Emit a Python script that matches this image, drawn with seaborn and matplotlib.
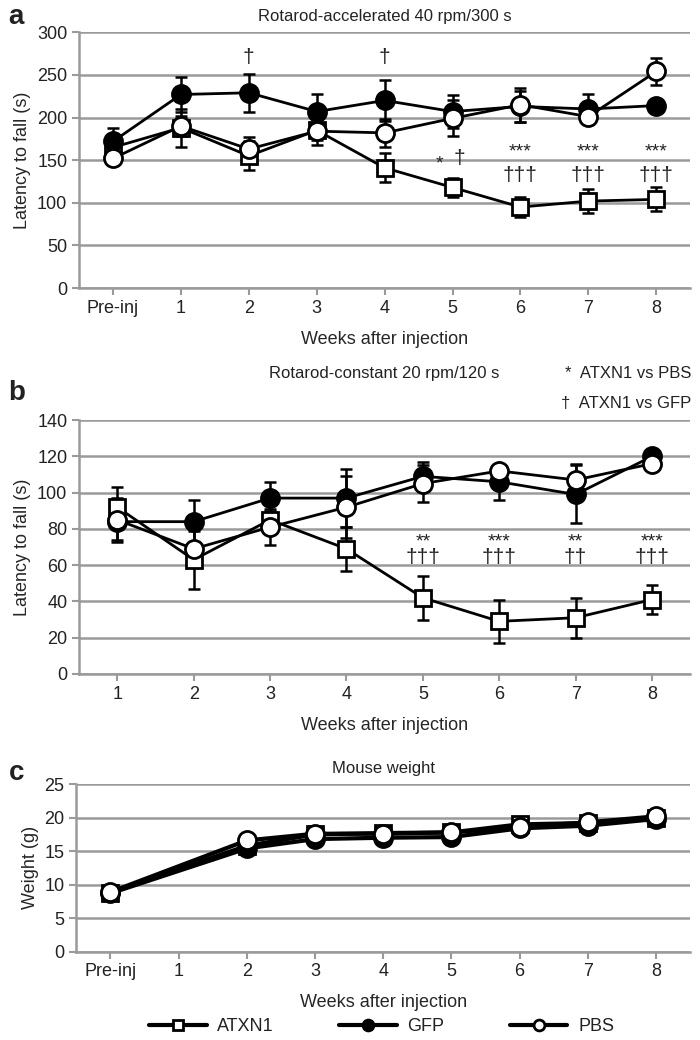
import matplotlib
matplotlib.use('Agg')
import matplotlib.pyplot as plt
import seaborn as sns
import numpy as np

# Datos (medias y SEM)
weeks_a = ['Pre-inj', '1', '2', '3', '4', '5', '6', '7', '8']
weeks_b = ['1', '2', '3', '4', '5', '6', '7', '8']

# a) Rotarod acelerado
acc_atxn1 = [165, 188, 155, 185, 141, 118, 95, 102, 104]
acc_atxn1_err = [15, 22, 17, 17, 17, 11, 12, 14, 14]
acc_gfp = [172, 227, 229, 207, 220, 207, 213, 210, 214]
acc_gfp_err = [16, 20, 22, 20, 24, 19, 18, 18, 0]
acc_pbs = [152, 190, 163, 184, 182, 199, 215, 201, 254]
acc_pbs_err = [0, 12, 14, 10, 16, 21, 20, 0, 16]

# b) Rotarod constante
con_atxn1 = [92, 63, 85, 69, 42, 29, 31, 41]
con_atxn1_err = [11, 16, 5, 12, 12, 12, 11, 8]
con_gfp = [84, 84, 97, 97, 109, 106, 99, 120]
con_gfp_err = [10, 12, 9, 16, 8, 10, 16, 0]
con_pbs = [85, 69, 81, 92, 105, 112, 107, 116]
con_pbs_err = [12, 0, 10, 17, 10, 0, 9, 0]

# c) Peso (sin medida en la semana 1)
weight_pos = [0, 2, 3, 4, 5, 6, 7, 8]
weight_atxn1 = [8.8, 15.8, 17.5, 17.7, 17.8, 19.0, 19.2, 20.0]
weight_gfp = [8.7, 15.4, 16.8, 17.0, 17.1, 18.4, 18.8, 19.8]
weight_pbs = [8.9, 16.6, 17.6, 17.6, 17.8, 18.6, 19.3, 20.2]

# Anotaciones de significancia: (posicion x, y, texto, tamano)
sig_a = [(2, 270, '†', 15), (4, 270, '†', 15), (4.8, 145, '*', 14), (5.1, 152, '†', 15),
         (6, 160, '***', 14), (6, 132, '†††', 15), (7, 160, '***', 14), (7, 132, '†††', 15),
         (8, 160, '***', 14), (8, 132, '†††', 15)]
sig_b = [(4, 73, '**', 14), (4, 64, '†††', 15), (5, 73, '***', 14), (5, 64, '†††', 15),
         (6, 73, '**', 14), (6, 64, '††', 15), (7, 73, '***', 14), (7, 64, '†††', 15)]

sns.set_theme(style='white')
plt.rcParams['font.family'] = ['Liberation Sans Narrow', 'Liberation Sans', 'DejaVu Sans']
plt.rcParams['text.color'] = '#222222'

GRID = '#9a9a9a'
styles = {
    'ATXN1': dict(marker='s', markerfacecolor='white', markersize=11),
    'GFP': dict(marker='o', markerfacecolor='black', markersize=13),
    'PBS': dict(marker='o', markerfacecolor='white', markersize=13),
}


def dibujar_series(ax, x, series, errs=None, lw=2):
    for name, y in series.items():
        sns.lineplot(x=x, y=y, ax=ax, color='black', linewidth=lw, label=name,
                     markeredgecolor='black', markeredgewidth=2, zorder=3,
                     **styles[name])
        if errs is not None:
            e = np.array(errs[name], dtype=float)
            ax.errorbar(x, y, yerr=e, fmt='none', ecolor='black', elinewidth=1.8,
                        capsize=4.5, capthick=1.8, zorder=2)


def formatear_eje(ax, labels, ylim, step, ylabel, title, pad=8):
    ax.set_xlim(-0.5, len(labels) - 0.5)
    ax.set_xticks(range(len(labels)))
    ax.set_xticklabels(labels)
    ax.set_ylim(*ylim)
    ax.set_yticks(np.arange(ylim[0], ylim[1] + 1, step))
    ax.yaxis.grid(True, color=GRID, linewidth=1.8)
    ax.set_axisbelow(True)
    for s in ['top', 'right']:
        ax.spines[s].set_visible(False)
    for s in ['left', 'bottom']:
        ax.spines[s].set_color(GRID)
        ax.spines[s].set_linewidth(1.8)
    ax.tick_params(axis='both', colors=GRID, labelcolor='#222222', labelsize=13,
                   length=5, width=1.5, direction='out', left=True, bottom=True)
    ax.set_xlabel('Weeks after injection', fontsize=13, labelpad=10)
    ax.set_ylabel(ylabel, fontsize=13)
    ax.set_title(title, fontsize=12, pad=pad)
    ax.get_legend().remove()


fig = plt.figure(figsize=(7, 10.4), dpi=100)
ax_a = fig.add_axes([0.113, 0.723, 0.873, 0.246])
ax_b = fig.add_axes([0.113, 0.352, 0.873, 0.244])
ax_c = fig.add_axes([0.109, 0.085, 0.877, 0.161])

# Panel a
xa = np.arange(len(weeks_a))
dibujar_series(ax_a, xa, {'ATXN1': acc_atxn1, 'GFP': acc_gfp, 'PBS': acc_pbs},
               {'ATXN1': acc_atxn1_err, 'GFP': acc_gfp_err, 'PBS': acc_pbs_err})
formatear_eje(ax_a, weeks_a, (0, 300), 50, 'Latency to fall (s)',
              'Rotarod-accelerated 40 rpm/300 s')
for x, y, t, fs in sig_a:
    ax_a.text(x, y, t, ha='center', va='center', fontsize=fs)

# Panel b
xb = np.arange(len(weeks_b))
dibujar_series(ax_b, xb, {'ATXN1': con_atxn1, 'GFP': con_gfp, 'PBS': con_pbs},
               {'ATXN1': con_atxn1_err, 'GFP': con_gfp_err, 'PBS': con_pbs_err})
formatear_eje(ax_b, weeks_b, (0, 140), 20, 'Latency to fall (s)',
              'Rotarod-constant 20 rpm/120 s', pad=30)
for x, y, t, fs in sig_b:
    ax_b.text(x, y, t, ha='center', va='center', fontsize=fs)
fig.text(0.988, 0.641, '*  ATXN1 vs PBS', ha='right', va='center', fontsize=12)
fig.text(0.988, 0.612, '†  ATXN1 vs GFP', ha='right', va='center', fontsize=12)

# Panel c
dibujar_series(ax_c, weight_pos, {'ATXN1': weight_atxn1, 'GFP': weight_gfp, 'PBS': weight_pbs},
               lw=3)
handles, labels = ax_c.get_legend_handles_labels()
formatear_eje(ax_c, weeks_a, (0, 25), 5, 'Weight (g)', 'Mouse weight')

# Letras de panel
fig.text(0.012, 0.984, 'a', fontsize=20, fontweight='bold', va='center')
fig.text(0.012, 0.622, 'b', fontsize=20, fontweight='bold', va='center')
fig.text(0.012, 0.257, 'c', fontsize=20, fontweight='bold', va='center')

fig.legend(handles, labels, loc='center', bbox_to_anchor=(0.545, 0.013), ncol=3,
           frameon=False, markerscale=0.6, handlelength=3.2, columnspacing=3.6,
           handletextpad=0.6, fontsize=13)

fig.savefig('out.png', dpi=100)
